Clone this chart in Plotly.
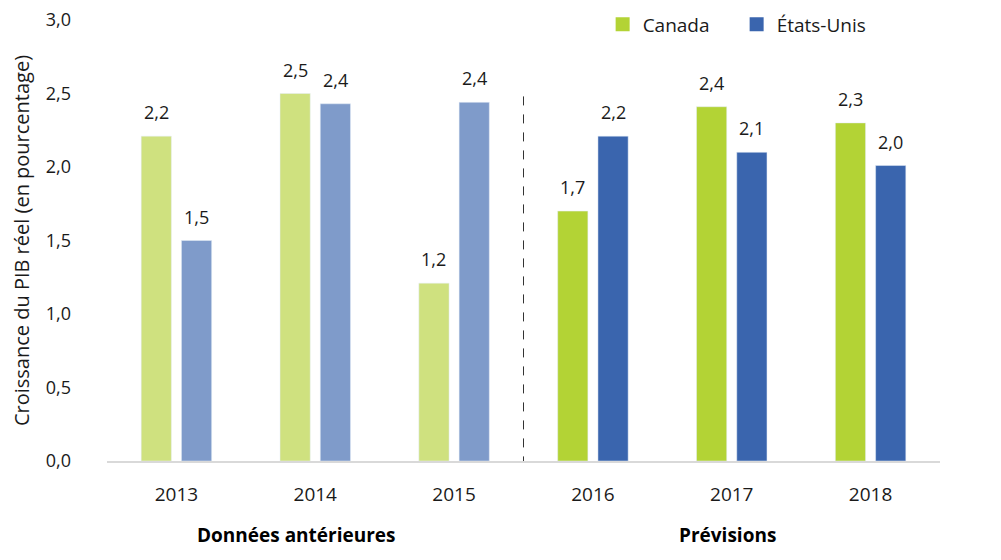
import plotly.graph_objects as go

years = ["2013", "2014", "2015", "2016", "2017", "2018"]
canada = [2.21, 2.50, 1.21, 1.70, 2.41, 2.30]
usa = [1.50, 2.43, 2.44, 2.21, 2.10, 2.01]
n_past = 3
section_labels = ["Données antérieures", "Prévisions"]
y_ticks = [0, 0.5, 1.0, 1.5, 2.0, 2.5, 3.0]

can_dark, can_light = "#b3d335", "#cfe17f"
us_dark, us_light = "#3a65ae", "#7f9bca"

can_colors = [can_light if i < n_past else can_dark for i in range(len(years))]
us_colors = [us_light if i < n_past else us_dark for i in range(len(years))]

FONT = "Open Sans"
TXT = "#1a1a1a"

fig = go.Figure()
fig.add_trace(go.Bar(x=years, y=canada, name="Canada", marker=dict(color=can_colors),
                     offsetgroup="c", showlegend=False))
fig.add_trace(go.Bar(x=years, y=usa, name="États-Unis", marker=dict(color=us_colors),
                     offsetgroup="u", showlegend=False))
# legend entries with the forecast (dark) colours
fig.add_trace(go.Scatter(x=[None], y=[None], mode="markers", name="Canada",
                         marker=dict(color=can_dark, symbol="square", size=14)))
fig.add_trace(go.Scatter(x=[None], y=[None], mode="markers", name="États-Unis",
                         marker=dict(color=us_dark, symbol="square", size=14)))

def fmt(v):
    return f"{v:.1f}".replace(".", ",")

annotations = []
off = 0.145
for i, (c, u) in enumerate(zip(canada, usa)):
    for xx, v in ((i - off, c), (i + off, u)):
        annotations.append(dict(x=xx, y=v, xref="x", yref="y", text=fmt(v), showarrow=False,
                                xanchor="center", yanchor="bottom", yshift=10,
                                font=dict(size=18, color=TXT, family=FONT)))

for xp, lab in ((0.228, section_labels[0]), (0.745, section_labels[1])):
    annotations.append(dict(x=xp, y=-0.168, xref="paper", yref="paper", text="<b>" + lab + "</b>",
                            xanchor="center", yanchor="middle", showarrow=False,
                            font=dict(size=19, color="#000000", family=FONT)))

fig.add_shape(type="line", x0=n_past - 0.5, x1=n_past - 0.5, xref="x", y0=-0.03, y1=2.52, yref="y",
              line=dict(color="#333333", width=1, dash="dash"))

fig.update_layout(
    width=1001, height=560,
    margin=dict(l=99, r=69, t=12, b=107, autoexpand=False),
    plot_bgcolor="white", paper_bgcolor="white",
    barmode="group", bargap=0.42, bargroupgap=0.25,
    separators=", ",
    font=dict(family=FONT, size=18, color=TXT),
    annotations=annotations,
    legend=dict(orientation="h", x=0.595, y=0.99, xanchor="left", yanchor="middle",
                font=dict(size=19, color=TXT, family=FONT), bgcolor="rgba(0,0,0,0)",
                entrywidth=89, entrywidthmode="pixels", traceorder="normal"),
    xaxis=dict(type="category", showline=True, linecolor="#d9d9d9", linewidth=2, showgrid=False,
               ticks="", tickfont=dict(size=19, color=TXT), ticklabelstandoff=15, fixedrange=True),
    yaxis=dict(range=[0, 3.0], tickvals=y_ticks, tickformat=".1f", showgrid=False, zeroline=False,
               showline=False, ticks="", tickfont=dict(size=18, color=TXT), ticklabelstandoff=35,
               ticklabeloverflow="allow",
               title=dict(text="Croissance du PIB réel (en pourcentage)", font=dict(size=20, color=TXT),
                          standoff=12)),
)

fig.write_html("out.html")
